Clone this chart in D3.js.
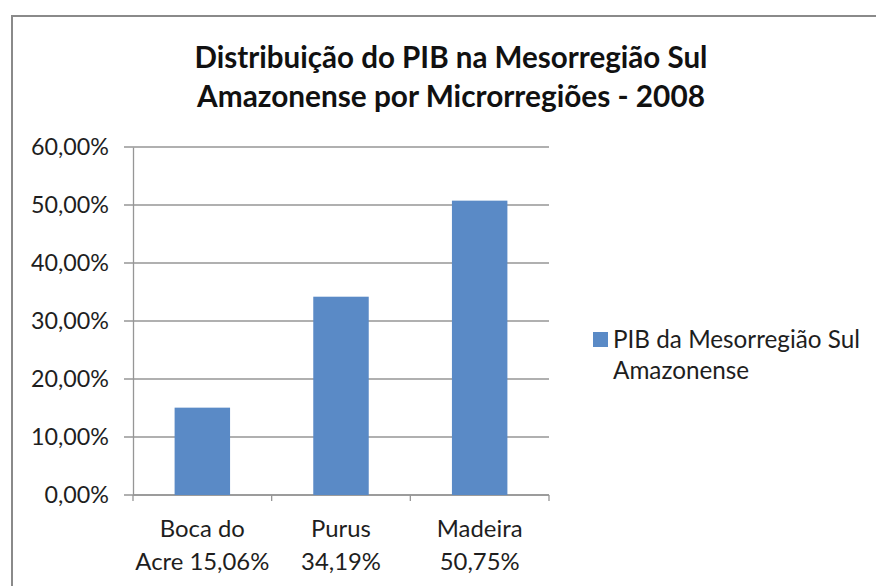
<!DOCTYPE html>
<html>
<head>
<meta charset="utf-8">
<script src="https://cdn.jsdelivr.net/npm/d3@7"></script>
<style>
  html, body { margin: 0; padding: 0; background: #fff; }
  svg { display: block; }
  text { font-family: Lato, "Open Sans", sans-serif; }
</style>
</head>
<body>
<div id="chart"></div>
<script>
// dados do gráfico
const categories = ["Boca do Acre", "Purus", "Madeira"];
const values = [15.06, 34.19, 50.75];
const categoryLines = [["Boca do", "Acre 15,06%"], ["Purus", "34,19%"], ["Madeira", "50,75%"]];
const yTicks = [0, 10, 20, 30, 40, 50, 60];
const titleLines = ["Distribuição do PIB na Mesorregião Sul", "Amazonense por Microrregiões - 2008"];
const legendLines = ["PIB da Mesorregião Sul", "Amazonense"];

const width = 876, height = 586;
const barColor = "#5a8ac6";
const gridColor = "#969696";
const textColor = "#1e1e1e";

const svg = d3.select("#chart").append("svg")
  .attr("width", width)
  .attr("height", height);

// moldura do gráfico (passa da borda direita/inferior)
svg.append("rect")
  .attr("x", 12).attr("y", 16)
  .attr("width", 1000).attr("height", 1000)
  .attr("fill", "#fff")
  .attr("stroke", "#8a8a8a")
  .attr("stroke-width", 2);

// ajusta a fonte para ocupar a largura desejada
function fitWidth(sel, target) {
  const node = sel.node();
  const size = parseFloat(sel.attr("font-size"));
  const w = node.getComputedTextLength();
  sel.attr("font-size", (size * target / w).toFixed(2));
  return sel.attr("font-size");
}

// título
const title = svg.append("g");
titleLines.forEach((line, i) => {
  const t = title.append("text")
    .attr("x", 451)
    .attr("y", 68 + i * 39)
    .attr("text-anchor", "middle")
    .attr("font-weight", "bold")
    .attr("font-size", 26)
    .attr("fill", "#111")
    .text(line);
  fitWidth(t, i === 0 ? 513 : 508);
});

// escalas
const x = d3.scaleBand().domain(categories).range([133, 549]).padding(0);
const y = d3.scaleLinear().domain([0, 60]).range([495, 147]);

// grade horizontal
svg.append("g")
  .selectAll("line")
  .data(yTicks)
  .join("line")
  .attr("x1", 124).attr("x2", 549)
  .attr("y1", d => y(d)).attr("y2", d => y(d))
  .attr("stroke", gridColor)
  .attr("stroke-width", 1.3);

// eixo y
const yAxis = svg.append("g")
  .attr("transform", "translate(133,0)")
  .call(d3.axisLeft(y).tickValues(yTicks).tickSize(0).tickPadding(24)
    .tickFormat(d => d3.format(".2f")(d).replace(".", ",") + "%"));
yAxis.select(".domain").attr("stroke", gridColor).attr("stroke-width", 1.3);
const yLabels = yAxis.selectAll("text")
  .attr("font-size", 22)
  .attr("fill", textColor)
  .attr("font-family", "Lato, sans-serif");
const ySize = fitWidth(yLabels.filter(d => d === 60), 78);
yLabels.attr("font-size", ySize);

// eixo x
const xAxis = svg.append("g")
  .attr("transform", `translate(0,${y(0)})`);
xAxis.append("line")
  .attr("x1", 133).attr("x2", 549)
  .attr("stroke", gridColor).attr("stroke-width", 1.3);
xAxis.selectAll(".sep")
  .data([...categories.map(c => x(c)), 549])
  .join("line")
  .attr("class", "sep")
  .attr("x1", d => d).attr("x2", d => d)
  .attr("y1", 0).attr("y2", 6)
  .attr("stroke", gridColor).attr("stroke-width", 1.3);

// rótulos das categorias
const catLabels = svg.append("g");
categories.forEach((c, i) => {
  categoryLines[i].forEach((line, j) => {
    catLabels.append("text")
      .attr("x", x(c) + x.bandwidth() / 2)
      .attr("y", 537 + j * 33)
      .attr("text-anchor", "middle")
      .attr("font-size", 22)
      .attr("fill", textColor)
      .text(line);
  });
});
const catSize = fitWidth(catLabels.selectAll("text").filter(function () {
  return d3.select(this).text() === "Acre 15,06%";
}), 134);
catLabels.selectAll("text").attr("font-size", catSize);

// barras
const barW = x.bandwidth() * 0.4;
svg.append("g")
  .selectAll("rect")
  .data(values)
  .join("rect")
  .attr("x", (d, i) => x(categories[i]) + (x.bandwidth() - barW) / 2)
  .attr("y", d => y(d))
  .attr("width", barW)
  .attr("height", d => y(0) - y(d))
  .attr("fill", barColor);

// legenda
const legend = svg.append("g");
legend.append("rect")
  .attr("x", 593).attr("y", 332)
  .attr("width", 15).attr("height", 15)
  .attr("fill", barColor);
legendLines.forEach((line, i) => {
  legend.append("text")
    .attr("x", 613)
    .attr("y", 348 + i * 31)
    .attr("font-size", 22)
    .attr("fill", textColor)
    .text(line);
});
const legSize = fitWidth(legend.select("text"), 247);
legend.selectAll("text").attr("font-size", legSize);
</script>
</body>
</html>
